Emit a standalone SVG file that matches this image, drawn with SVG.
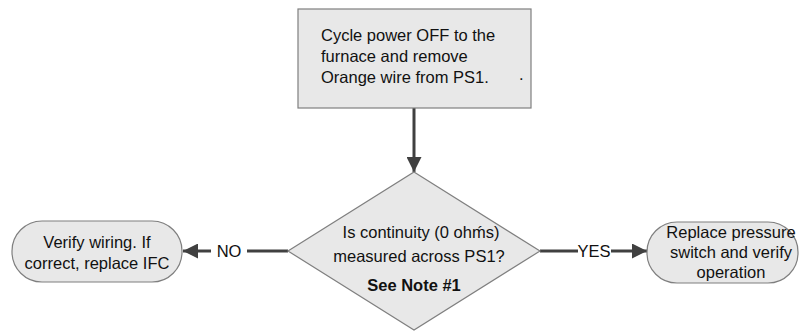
<svg xmlns="http://www.w3.org/2000/svg" width="800" height="332" viewBox="0 0 800 332">
<defs>
<style>
.node{fill:#e8e8e8;stroke:#7f7f7f;stroke-width:1.2}
.t{font-family:"Liberation Sans",Arial,sans-serif;font-size:16.5px;fill:#111}
.c{text-anchor:middle}
.b{font-weight:bold}
.conn{stroke:#404040;stroke-width:3;fill:none}
</style>
<marker id="ah" viewBox="0 0 10 10" refX="10" refY="5" markerWidth="5" markerHeight="5" markerUnits="strokeWidth" orient="auto">
<path d="M0,0 L10,5 L0,10 z" fill="#404040"/>
</marker>
</defs>
<rect width="800" height="332" fill="#fff"/>
<g id="connectors">
<line class="conn" x1="414" y1="108" x2="414" y2="172" marker-end="url(#ah)"/>
<line class="conn" x1="288" y1="251" x2="247" y2="251"/>
<line class="conn" x1="211" y1="251" x2="183" y2="251" marker-end="url(#ah)"/>
<text class="t c" x="229" y="257">NO</text>
<line class="conn" x1="540" y1="251" x2="578" y2="251"/>
<line class="conn" x1="611" y1="251" x2="647" y2="251" marker-end="url(#ah)"/>
<text class="t c" x="594" y="257">YES</text>
</g>
<g id="start">
<rect class="node" x="298" y="9" width="233" height="99"/>
<text class="t" x="321" y="41">Cycle power OFF to the</text>
<text class="t" x="321" y="62">furnace and remove</text>
<text class="t" x="321" y="83">Orange wire from PS1.</text>
<text class="t" x="519" y="80">.</text>
</g>
<g id="decision">
<polygon class="node" points="414,172 540,251 414,330 288,251"/>
<text class="t c" x="421" y="238">Is continuity (0 ohḿs)</text>
<text class="t c" x="419" y="262">measured across PS1?</text>
<text class="t c b" x="414" y="291">See Note #1</text>
</g>
<g id="no-end">
<rect class="node" x="12" y="221" width="170" height="61" rx="30" ry="30"/>
<text class="t c" x="97" y="248">Verify wiring. If</text>
<text class="t c" x="97" y="269">correct, replace IFC</text>
</g>
<g id="yes-end">
<rect class="node" x="647" y="222" width="151" height="61" rx="30" ry="30"/>
<text class="t c" x="731" y="238">Replace pressure</text>
<text class="t c" x="731" y="258">switch and verify</text>
<text class="t c" x="731" y="278">operation</text>
</g>
</svg>
